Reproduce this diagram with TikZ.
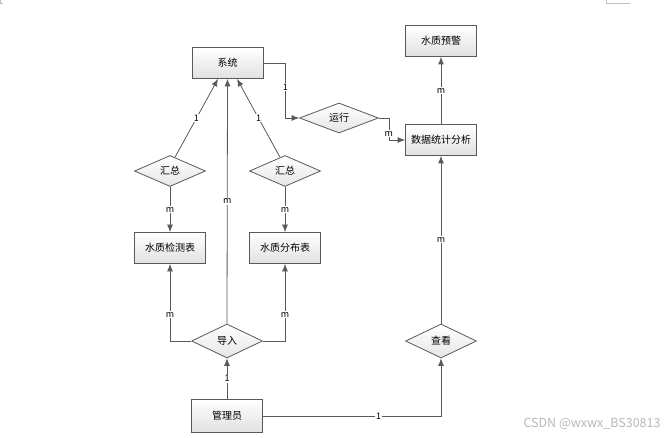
\documentclass[tikz,border=0pt]{standalone}
\usepackage{fontspec}
\setmainfont{Noto Sans CJK SC}
\usetikzlibrary{arrows.meta,shapes.geometric}

\begin{document}
\begin{tikzpicture}[
    x=1pt, y=-1pt,
    inner sep=2pt, %sets minimum size of a node
    ent/.style={rectangle,draw=black!65,line width=0.8pt,top color=white,
        bottom color=black!12,minimum width=71pt,minimum height=31pt,
        font=\fontsize{10pt}{12pt}\selectfont},
    rel/.style={diamond,draw=black!65,line width=0.8pt,top color=white,
        bottom color=black!10,minimum width=71pt,minimum height=32pt,
        inner sep=0pt,font=\fontsize{10pt}{12pt}\selectfont},
    lnk/.style={draw=black!65,line width=0.8pt},
    card/.style={fill=white,inner sep=1pt,font=\fontsize{9pt}{10pt}\selectfont},
    >={Latex[length=7.5pt,width=6pt]},
    ]
    \useasboundingbox (0,0) rectangle (671,438);

    %page corners
    \draw[black!25,line width=0.6pt] (0,0) -- (0,3) -- (3,3);
    \draw[black!25,line width=0.6pt] (606,0) -- (606,3) -- (630,3);

    %entities
    \node[ent] (sys) at (227.5,63) {系统};
    \node[ent] (warn) at (441,41) {水质预警};
    \node[ent] (stat) at (441,140) {数据统计分析};
    \node[ent] (tabL) at (170,248) {水质检测表};
    \node[ent] (tabR) at (285,248) {水质分布表};
    \node[ent,minimum height=33pt] (adm) at (227,416) {管理员};

    %relations
    \node[rel,minimum width=79pt,minimum height=30pt] (run) at (339,118) {运行};
    \node[rel,minimum height=31pt] (sumL) at (170,171) {汇总};
    \node[rel,minimum height=31pt] (sumR) at (285,171) {汇总};
    \node[rel,minimum height=34pt] (imp) at (227,341) {导入};
    \node[rel,minimum height=34pt] (view) at (441,341) {查看};

    %links
    \draw[lnk,->] (sys.east) -- ++(22,0) |- node[card,pos=0.22] {1} (run.west);
    \draw[lnk,->] (run.east) -- ++(10,0) |- node[card,pos=0.36] {m} (stat.west);
    \draw[lnk,->] (stat.north) -- node[card] {m} (warn.south);
    \draw[lnk,->] (sumL.south) -- node[card] {m} (tabL.north);
    \draw[lnk,->] (sumR.south) -- node[card] {m} (tabR.north);
    \draw[lnk,->] (sumL.70) -- node[card] {1} ([xshift=-9.5pt]sys.south);
    \draw[lnk,->] (sumR.110) -- node[card] {1} ([xshift=9.5pt]sys.south);
    \draw[lnk,->] (imp.north) -- node[card] {m} (sys.south);
    \draw[lnk,->] (imp.west) -| node[card,pos=0.67] {m} (tabL.south);
    \draw[lnk,->] (imp.east) -| node[card,pos=0.67] {m} (tabR.south);
    \draw[lnk,->] (adm.north) -- node[card] {1} (imp.south);
    \draw[lnk,->] (adm.east) -| node[card,pos=0.325] {1} (view.south);
    \draw[lnk,->] (view.north) -- node[card] {m} (stat.south);

    %watermark
    \node[black!28,font=\fontsize{12.5pt}{14pt}\selectfont] (mark) at (592,424) {CSDN @wxwx\_BS30813};

\end{tikzpicture}
\end{document}
